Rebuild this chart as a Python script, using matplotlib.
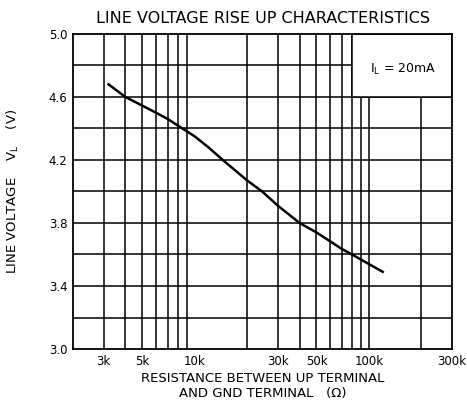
import matplotlib
matplotlib.use("Agg")
import matplotlib.pyplot as plt
from matplotlib.patches import Rectangle
import numpy as np

# Data (resistance in kilo-ohms, line voltage in V)
resistance_k = [3.2, 4.0, 5.0, 6.0, 7.0, 8.5, 10, 12, 14.5, 20, 24.4, 30, 40, 50, 70, 80, 90, 120]
voltage = [4.68, 4.60, 4.545, 4.50, 4.46, 4.40, 4.35, 4.28, 4.20, 4.07, 4.00, 3.91, 3.80, 3.74, 3.635, 3.60, 3.568, 3.49]

xtick_vals = [3e3, 5e3, 10e3, 30e3, 50e3, 100e3, 300e3]
xtick_labels = ["3k", "5k", "10k", "30k", "50k", "100k", "300k"]
ytick_vals = [3.0, 3.4, 3.8, 4.2, 4.6, 5.0]
ytick_labels = ["3.0", "3.4", "3.8", "4.2", "4.6", "5.0"]

plt.rcParams['font.family'] = ['DejaVu Sans']

fig = plt.figure(figsize=(4.67, 4.05), dpi=100)
ax = fig.add_axes([73/467, 1-349/405, (452-73)/467, (349-34)/405])

ax.set_xscale('log')
ax.set_xlim(2e3, 300e3)
ax.set_ylim(3.0, 5.0)

# grid lines
vlines = [m * 10**e for e in (3, 4) for m in range(2, 10)] + [1e5, 2e5, 3e5]
for v in vlines:
    if 2e3 < v < 3e5:
        ax.axvline(v, color='black', lw=1.1, zorder=1)
for h in np.arange(3.2, 5.0, 0.2):
    ax.axhline(h, color='black', lw=1.1, zorder=1)

# condition box
ax.add_patch(Rectangle((80e3, 4.6), 300e3 - 80e3, 0.4, facecolor='white',
                       edgecolor='black', lw=1.1, zorder=2))
ax.text(157e3, 4.775, r"I$_\mathregular{L}$ = 20mA", ha='center', va='center',
        fontsize=9, zorder=3)

ax.plot(np.array(resistance_k) * 1e3, voltage, color='black', lw=1.8, zorder=4)

ax.set_xticks(xtick_vals)
ax.set_xticklabels(xtick_labels, fontsize=8.5)
ax.xaxis.set_minor_locator(matplotlib.ticker.NullLocator())
ax.set_yticks(ytick_vals)
ax.set_yticklabels(ytick_labels, fontsize=8.5)
ax.tick_params(length=0, pad=4)
for s in ax.spines.values():
    s.set_linewidth(1.3)
    s.set_zorder(5)

ax.set_title("LINE VOLTAGE RISE UP CHARACTERISTICS", fontsize=11.5, pad=8)
ax.set_xlabel("RESISTANCE BETWEEN UP TERMINAL\nAND GND TERMINAL   (Ω)", fontsize=9.5,
              labelpad=3, linespacing=1.2)
ax.set_ylabel(r"LINE VOLTAGE    V$_\mathregular{L}$    (V)", fontsize=9.5, labelpad=20)

fig.savefig("out.png", dpi=100)
